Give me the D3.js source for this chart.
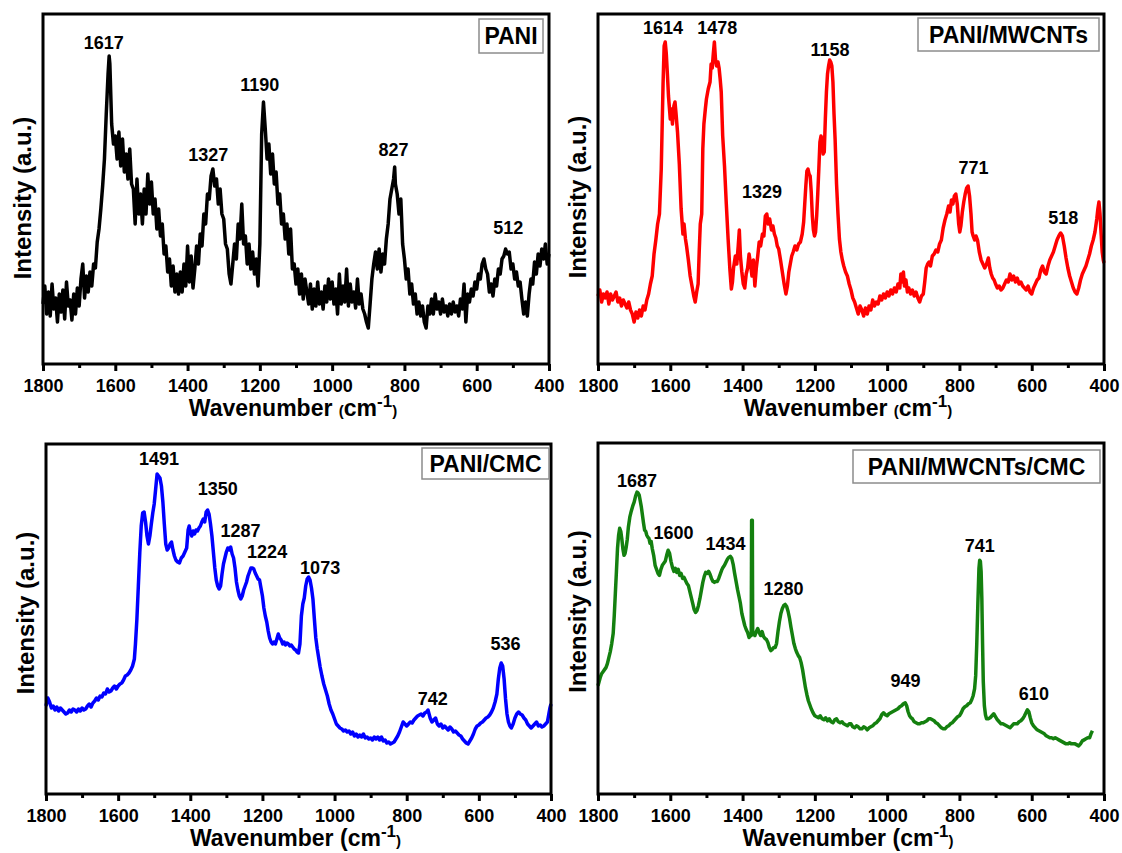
<!DOCTYPE html>
<html>
<head>
<meta charset="utf-8">
<script src="https://cdnjs.cloudflare.com/ajax/libs/d3/7.8.5/d3.min.js"></script>
<style>
  body { margin: 0; background: #fff; }
  svg { display: block; font-family: Arial, 'Liberation Sans', sans-serif; font-weight: bold; }
</style>
</head>
<body>
<svg id="chart" width="1122" height="853"></svg>
<script>
// Raman spectra, intensity in arbitrary units (0..350 = frame height)
const majorTicks = [1800, 1600, 1400, 1200, 1000, 800, 600, 400];
const minorTicks = [1700, 1500, 1300, 1100, 900, 700, 500];

const sampleNames = ['PANI', 'PANI/MWCNTs', 'PANI/CMC', 'PANI/MWCNTs/CMC'];

// [wavenumber, intensity]
const paniSpectrum = [
  [1800,60],[1795,78],[1790,50],[1785,72],[1780,48],[1775,80],[1770,55],[1765,66],[1760,42],[1755,70],
  [1750,52],[1745,74],[1740,45],[1735,82],[1730,58],[1725,64],[1720,44],[1715,70],[1710,50],[1705,76],
  [1700,58],[1695,85],[1690,100],[1685,66],[1680,88],[1675,72],[1670,92],[1665,78],[1660,100],[1655,96],
  [1650,122],[1645,135],[1640,155],[1635,178],[1630,205],[1625,250],[1620,290],[1617,308],[1615,300],[1610,240],
  [1605,220],[1600,228],[1595,205],[1590,232],[1585,198],[1580,225],[1575,192],[1570,210],[1565,185],[1560,215],
  [1555,180],[1550,175],[1545,140],[1540,185],[1535,150],[1530,170],[1525,140],[1520,175],[1515,150],[1510,190],
  [1505,160],[1500,182],[1495,150],[1490,165],[1485,135],[1480,155],[1475,128],[1470,140],[1465,110],[1460,118],
  [1455,92],[1450,105],[1445,78],[1440,98],[1435,72],[1430,90],[1425,70],[1420,92],[1415,72],[1410,100],
  [1405,78],[1400,118],[1395,82],[1390,108],[1385,76],[1380,95],[1375,118],[1370,100],[1365,130],[1360,118],
  [1355,150],[1350,140],[1345,170],[1340,165],[1335,188],[1330,195],[1325,178],[1320,185],[1315,160],[1310,175],
  [1305,150],[1300,145],[1295,120],[1290,115],[1285,90],[1280,80],[1275,100],[1270,120],[1265,105],[1260,140],
  [1255,125],[1250,160],[1245,120],[1240,128],[1235,100],[1230,120],[1225,95],[1220,112],[1215,90],[1210,105],
  [1205,78],[1200,120],[1195,230],[1190,262],[1185,235],[1180,205],[1175,220],[1170,190],[1165,210],[1160,180],
  [1155,192],[1150,160],[1145,170],[1140,140],[1135,150],[1130,125],[1125,140],[1120,110],[1115,135],[1110,95],
  [1105,100],[1100,80],[1095,95],[1090,70],[1085,90],[1080,65],[1075,85],[1070,72],[1065,60],[1060,80],
  [1055,55],[1050,75],[1045,58],[1040,82],[1035,60],[1030,72],[1025,55],[1020,78],[1015,62],[1010,85],
  [1005,65],[1000,82],[995,60],[990,75],[985,50],[980,90],[975,60],[970,78],[965,62],[960,95],
  [955,58],[950,80],[945,62],[940,72],[935,56],[930,85],[925,60],[920,70],[915,55],[910,50],
  [905,42],[900,36],[895,60],[890,85],[885,100],[880,112],[875,95],[870,115],[865,92],[860,110],
  [855,100],[850,125],[845,140],[840,165],[835,175],[830,185],[827,197],[825,180],[820,170],[815,150],
  [810,165],[805,120],[800,105],[795,85],[790,95],[785,70],[780,80],[775,60],[770,70],[765,50],
  [760,62],[755,48],[750,58],[745,42],[740,36],[735,58],[730,50],[725,65],[720,50],[715,70],
  [710,55],[705,62],[700,50],[695,65],[690,52],[685,58],[680,48],[675,60],[670,50],[665,62],
  [660,52],[655,58],[650,48],[645,65],[640,55],[635,80],[630,42],[625,70],[620,62],[615,75],
  [610,68],[605,82],[600,75],[595,90],[590,85],[585,100],[580,105],[575,95],[570,90],[565,72],
  [560,80],[555,68],[550,85],[545,78],[540,95],[535,90],[530,105],[525,108],[520,115],[515,110],
  [510,112],[505,95],[500,100],[495,85],[490,92],[485,78],[480,82],[475,65],[470,50],[465,62],
  [460,48],[455,70],[450,85],[445,80],[440,102],[435,90],[430,110],[425,98],[420,115],[415,105],
  [410,120],[405,100],[400,110]
];

const paniMwcntSpectrum = [
  [1800,68],[1795,74],[1790,62],[1785,70],[1780,66],[1775,72],[1770,60],[1765,70],[1760,64],[1755,68],
  [1750,72],[1745,62],[1740,66],[1735,58],[1730,64],[1725,60],[1720,56],[1715,62],[1710,54],[1705,50],
  [1700,42],[1695,52],[1690,46],[1685,54],[1680,48],[1675,58],[1670,54],[1665,64],[1660,70],[1655,80],
  [1650,88],[1645,110],[1640,124],[1635,140],[1630,150],[1625,195],[1620,280],[1617,318],[1614,322],[1611,310],
  [1608,290],[1605,268],[1600,245],[1597,255],[1594,240],[1590,258],[1587,262],[1584,250],[1580,232],[1575,200],
  [1570,155],[1565,130],[1562,140],[1558,125],[1555,118],[1550,104],[1545,88],[1540,78],[1535,68],[1531,62],
  [1527,72],[1523,80],[1520,112],[1517,140],[1513,150],[1510,215],[1507,240],[1503,255],[1500,265],[1495,275],
  [1490,282],[1487,300],[1484,296],[1481,310],[1478,322],[1475,305],[1472,298],[1468,302],[1465,296],[1462,285],
  [1459,272],[1455,228],[1450,198],[1445,160],[1440,125],[1435,94],[1431,75],[1428,82],[1425,96],[1420,108],
  [1416,100],[1412,118],[1409,134],[1406,108],[1402,92],[1398,80],[1394,76],[1390,90],[1386,96],[1382,110],
  [1378,100],[1374,88],[1370,104],[1366,78],[1362,96],[1358,108],[1354,122],[1350,118],[1345,130],[1341,128],
  [1337,148],[1333,150],[1329,140],[1325,145],[1320,134],[1316,138],[1312,130],[1308,126],[1304,118],[1300,115],
  [1295,104],[1290,92],[1285,80],[1280,70],[1276,78],[1272,92],[1268,100],[1264,108],[1260,112],[1255,118],
  [1250,114],[1245,120],[1240,122],[1235,130],[1231,142],[1228,160],[1225,178],[1222,193],[1219,195],[1216,190],
  [1213,188],[1210,172],[1207,148],[1204,134],[1201,128],[1198,132],[1195,148],[1192,170],[1189,195],[1186,222],
  [1183,228],[1180,224],[1177,210],[1174,212],[1171,245],[1168,272],[1165,290],[1162,298],[1159,304],[1156,302],
  [1153,298],[1150,282],[1147,250],[1144,225],[1140,180],[1136,150],[1132,125],[1128,112],[1124,104],[1120,98],
  [1115,92],[1110,88],[1105,80],[1100,74],[1095,66],[1090,62],[1085,56],[1080,50],[1075,58],[1070,54],
  [1065,48],[1060,56],[1055,50],[1050,58],[1045,54],[1040,64],[1035,58],[1030,62],[1025,60],[1020,68],
  [1015,64],[1010,70],[1005,66],[1000,72],[995,68],[990,74],[985,70],[980,76],[975,72],[970,80],
  [965,76],[962,90],[958,82],[955,92],[952,78],[948,84],[944,72],[940,76],[935,70],[930,74],
  [925,68],[920,72],[915,66],[910,62],[905,68],[900,70],[896,82],[892,96],[888,100],[884,102],
  [880,98],[875,108],[870,110],[865,114],[860,112],[855,120],[850,124],[845,136],[840,144],[835,150],
  [830,158],[826,152],[822,164],[818,160],[814,168],[810,170],[806,160],[802,140],[799,132],[796,138],
  [792,152],[788,162],[784,170],[780,176],[776,178],[772,168],[768,150],[765,132],[762,128],[758,124],
  [754,128],[750,124],[745,112],[740,104],[735,100],[730,96],[725,100],[720,106],[716,96],[712,90],
  [708,86],[704,84],[700,80],[695,76],[690,78],[685,74],[680,76],[675,80],[670,84],[665,82],
  [660,90],[655,84],[650,88],[645,82],[640,86],[635,80],[630,82],[625,78],[620,76],[615,74],
  [610,78],[605,72],[600,70],[595,76],[590,80],[585,84],[580,86],[575,94],[570,98],[565,92],
  [560,90],[555,98],[550,104],[545,108],[540,112],[535,118],[530,124],[525,128],[520,131],[515,128],
  [510,118],[505,106],[500,96],[495,88],[490,82],[485,76],[480,72],[475,70],[470,76],[465,84],
  [460,90],[455,94],[450,98],[445,104],[440,110],[435,118],[430,124],[425,132],[420,145],[417,155],
  [414,162],[411,150],[408,130],[405,112],[402,104],[400,101]
];

const paniCmcSpectrum = [
  [1800,88],[1795,96],[1790,92],[1785,86],[1780,88],[1775,84],[1770,87],[1765,83],[1760,86],[1755,84],
  [1750,82],[1745,80],[1740,81],[1735,84],[1730,82],[1725,85],[1720,84],[1715,82],[1710,85],[1705,83],
  [1700,86],[1695,84],[1690,85],[1685,88],[1680,90],[1675,87],[1670,91],[1665,93],[1660,96],[1655,94],
  [1650,98],[1645,97],[1640,101],[1635,100],[1630,105],[1625,102],[1620,103],[1615,106],[1610,108],[1605,105],
  [1600,108],[1595,110],[1590,111],[1585,114],[1580,118],[1575,119],[1570,121],[1565,124],[1560,128],[1555,135],
  [1552,150],[1548,175],[1544,208],[1540,241],[1536,268],[1532,281],[1528,282],[1524,272],[1520,258],[1516,250],
  [1512,258],[1508,270],[1504,281],[1500,290],[1496,305],[1492,320],[1488,318],[1484,316],[1480,308],[1476,292],
  [1472,270],[1468,250],[1464,244],[1460,246],[1456,250],[1452,252],[1448,244],[1444,238],[1440,234],[1435,232],
  [1430,231],[1425,236],[1420,238],[1415,242],[1410,246],[1406,264],[1403,268],[1400,262],[1396,258],[1392,263],
  [1388,260],[1384,264],[1380,263],[1376,266],[1372,268],[1368,272],[1364,275],[1360,272],[1356,282],[1352,284],
  [1348,280],[1344,270],[1340,258],[1336,242],[1332,226],[1328,214],[1324,208],[1320,205],[1316,208],[1312,220],
  [1308,230],[1304,236],[1300,242],[1296,246],[1292,244],[1288,247],[1284,240],[1280,236],[1276,226],[1272,212],
  [1268,204],[1264,198],[1260,195],[1256,198],[1252,204],[1248,208],[1244,212],[1240,218],[1236,222],[1232,226],
  [1228,226],[1224,225],[1220,221],[1216,218],[1212,215],[1208,214],[1204,206],[1200,198],[1196,186],[1192,178],
  [1188,172],[1184,163],[1180,156],[1176,152],[1172,150],[1168,152],[1164,150],[1160,155],[1156,160],[1152,156],
  [1148,154],[1144,150],[1140,152],[1136,149],[1132,151],[1128,150],[1124,148],[1120,149],[1116,147],[1112,145],
  [1108,144],[1104,142],[1100,141],[1096,150],[1092,178],[1088,190],[1084,196],[1080,208],[1076,215],[1072,217],
  [1068,214],[1064,206],[1060,195],[1056,175],[1052,156],[1048,145],[1044,136],[1040,127],[1035,118],[1030,110],
  [1025,104],[1020,98],[1015,90],[1010,84],[1005,80],[1000,75],[995,70],[990,68],[985,66],[980,65],
  [975,63],[970,64],[965,62],[960,63],[955,60],[950,62],[945,58],[940,60],[935,57],[930,59],
  [925,57],[920,60],[915,56],[910,57],[905,55],[900,56],[895,54],[890,57],[885,55],[880,57],
  [875,54],[870,57],[865,53],[860,54],[855,51],[850,52],[845,50],[840,51],[835,52],[830,55],
  [825,58],[820,62],[815,67],[810,72],[805,70],[800,68],[795,70],[790,72],[785,71],[780,74],
  [775,76],[770,78],[765,79],[760,80],[755,78],[750,81],[745,82],[741,84],[738,80],[735,76],
  [730,72],[725,74],[720,76],[715,70],[710,68],[705,70],[700,66],[695,68],[690,66],[685,64],
  [680,67],[675,65],[670,62],[665,63],[660,61],[655,59],[650,58],[645,55],[640,53],[635,51],
  [630,50],[625,53],[620,56],[615,60],[610,65],[605,68],[600,69],[595,71],[590,72],[585,74],
  [580,76],[575,77],[570,79],[565,82],[560,86],[555,92],[550,100],[546,115],[542,126],[538,131],
  [534,128],[530,115],[526,95],[522,80],[518,72],[514,68],[510,66],[505,70],[500,76],[495,80],
  [490,82],[485,80],[480,79],[475,76],[470,74],[465,70],[460,68],[455,66],[450,68],[445,70],
  [440,72],[435,68],[430,69],[425,67],[420,68],[415,70],[410,72],[406,80],[403,86],[400,90]
];

const paniMwcntCmcSpectrum = [
  [1800,108],[1797,112],[1794,116],[1790,120],[1786,122],[1782,124],[1778,126],[1774,130],[1770,136],[1766,142],
  [1762,150],[1758,160],[1755,178],[1752,200],[1749,222],[1746,245],[1743,258],[1740,265],[1737,262],[1734,254],
  [1731,244],[1728,238],[1725,240],[1722,246],[1719,254],[1716,266],[1712,276],[1708,282],[1704,287],[1700,291],
  [1696,297],[1692,301],[1689,300],[1686,298],[1683,292],[1680,286],[1677,278],[1674,270],[1671,263],[1668,262],
  [1665,258],[1662,256],[1659,255],[1656,250],[1653,252],[1650,245],[1646,238],[1642,228],[1638,224],[1634,220],
  [1630,218],[1626,224],[1622,228],[1618,230],[1614,232],[1610,238],[1606,243],[1602,240],[1598,232],[1594,226],
  [1590,222],[1586,225],[1582,221],[1578,224],[1574,218],[1570,220],[1566,215],[1562,216],[1558,213],[1554,210],
  [1550,208],[1546,202],[1542,196],[1538,190],[1534,184],[1530,181],[1526,183],[1522,188],[1518,195],[1514,203],
  [1510,211],[1506,217],[1502,221],[1498,220],[1494,222],[1490,219],[1486,215],[1482,212],[1478,211],[1474,212],
  [1470,212],[1466,215],[1462,219],[1458,223],[1454,226],[1450,228],[1446,231],[1442,234],[1438,236],[1434,237],
  [1430,235],[1426,229],[1422,220],[1418,212],[1414,204],[1410,197],[1406,190],[1402,180],[1398,174],[1394,168],
  [1390,164],[1386,161],[1382,156],[1378,159],[1376,158],[1375,273],[1373,273],[1372,160],[1369,161],[1366,158],
  [1362,162],[1358,165],[1354,161],[1350,158],[1346,162],[1342,157],[1338,155],[1334,154],[1330,151],[1326,146],
  [1322,143],[1318,144],[1314,146],[1310,146],[1306,150],[1302,162],[1298,172],[1294,180],[1290,185],[1286,188],
  [1282,189],[1278,187],[1274,182],[1270,175],[1266,166],[1262,158],[1258,150],[1254,145],[1250,141],[1246,138],
  [1242,136],[1238,131],[1234,124],[1230,115],[1226,106],[1222,99],[1218,93],[1214,89],[1210,85],[1205,81],
  [1200,78],[1195,77],[1190,76],[1185,78],[1180,75],[1175,74],[1170,76],[1165,73],[1160,75],[1155,72],
  [1150,71],[1145,74],[1140,75],[1135,72],[1130,71],[1125,72],[1120,70],[1115,69],[1110,68],[1105,70],
  [1100,70],[1095,67],[1090,66],[1085,68],[1080,67],[1075,65],[1070,65],[1065,67],[1060,66],[1055,64],
  [1050,66],[1045,67],[1040,68],[1035,70],[1030,71],[1025,73],[1020,75],[1015,79],[1010,81],[1005,79],
  [1000,78],[995,80],[990,81],[985,82],[980,83],[975,84],[970,85],[965,87],[960,88],[955,90],
  [950,91],[946,88],[942,82],[938,78],[934,76],[930,75],[925,72],[920,71],[915,70],[910,70],
  [905,71],[900,71],[895,72],[890,73],[885,75],[880,75],[875,74],[870,73],[865,71],[860,70],
  [855,68],[850,66],[845,65],[840,65],[835,67],[830,68],[825,70],[820,71],[815,73],[810,75],
  [805,77],[800,78],[795,81],[790,85],[785,87],[780,88],[775,90],[770,91],[766,94],[762,98],
  [758,105],[755,118],[752,150],[749,190],[746,225],[744,233],[742,232],[740,222],[738,195],[736,150],
  [734,112],[731,88],[728,79],[725,75],[720,75],[715,76],[710,78],[705,80],[700,77],[695,74],
  [690,72],[685,70],[680,70],[675,69],[670,68],[665,67],[660,66],[655,68],[650,70],[645,70],
  [640,70],[635,72],[630,73],[625,75],[620,78],[616,81],[612,84],[608,82],[604,76],[600,71],
  [595,68],[590,66],[585,64],[580,63],[575,62],[570,61],[565,60],[560,58],[555,57],[550,56],
  [545,56],[540,55],[535,56],[530,55],[525,54],[520,53],[515,52],[510,51],[505,50],[500,50],
  [495,51],[490,50],[485,50],[480,50],[475,49],[470,48],[465,50],[460,53],[455,54],[450,55],
  [445,56],[440,56],[436,60],[432,63]
];

// peak annotations: [text, wavenumber, intensity] (where the label sits)
const paniPeaks = [['1617',1632,321],['1327',1343,209],['1190',1200,279],['827',830,214],['512',513,136]];
const paniMwcntPeaks = [['1614',1620,336],['1478',1470,336],['1329',1346,172],['1158',1158,314],['771',761,196],['518',513,146]];
const paniCmcPeaks = [['1491',1487,335],['1350',1324,305],['1287',1261,263],['1224',1187,242],['1073',1040,226],['742',728,95],['536',526,150]];
const paniMwcntCmcPeaks = [['1687',1692,313],['1600',1591,261],['1434',1447,250],['1280',1287,205],['949',949,113],['741',744,248],['610',594,100]];

const panels = [
  {name: sampleNames[0], data: paniSpectrum, peaks: paniPeaks, color: '#000000',
    x: 43, y: 14, w: 506, h: 350, legend: [436, 5, 64, 34], ylabY: 9, bigParen: false},
  {name: sampleNames[1], data: paniMwcntSpectrum, peaks: paniMwcntPeaks, color: '#ff0000',
    x: 598, y: 14, w: 506, h: 350, legend: [320, 4, 181, 33], ylabY: 8, bigParen: false},
  {name: sampleNames[2], data: paniCmcSpectrum, peaks: paniCmcPeaks, color: '#0000ff',
    x: 46, y: 444, w: 505, h: 350, legend: [376, 4, 127, 31], ylabY: -6, bigParen: true},
  {name: sampleNames[3], data: paniMwcntCmcSpectrum, peaks: paniMwcntCmcPeaks, color: '#14800f',
    x: 598, y: 443, w: 506, h: 351, legend: [255, 7, 247, 33], ylabY: -7, bigParen: true}
];

const svg = d3.select('#chart');

function drawPanel(p) {
  const g = svg.append('g').attr('transform', `translate(${p.x},${p.y})`);

  const x = d3.scaleLinear().domain([1800, 400]).range([0, p.w]);
  const y = d3.scaleLinear().domain([0, 350]).range([p.h, 0]);

  // spectrum
  const line = d3.line()
    .x(d => x(d[0]))
    .y(d => y(d[1]));

  g.append('path')
    .datum(p.data)
    .attr('fill', 'none')
    .attr('stroke', p.color)
    .attr('stroke-width', 3.5)
    .attr('stroke-linejoin', 'round')
    .attr('d', line);

  // minor ticks (no labels)
  g.append('g')
    .attr('transform', `translate(0,${p.h})`)
    .call(d3.axisBottom(x).tickValues(minorTicks).tickSize(4).tickFormat(''))
    .call(a => a.select('.domain').remove())
    .call(a => a.selectAll('line').attr('stroke', '#000').attr('stroke-width', 3));

  // major ticks
  g.append('g')
    .attr('transform', `translate(0,${p.h})`)
    .call(d3.axisBottom(x).tickValues(majorTicks).tickSize(7).tickPadding(8).tickFormat(d3.format('d')))
    .call(a => a.select('.domain').remove())
    .call(a => a.selectAll('line').attr('stroke', '#000').attr('stroke-width', 3))
    .call(a => a.selectAll('text')
      .attr('fill', '#000')
      .style('font-size', '18px')
      .style('font-weight', 'bold')
      .style('font-family', "Arial, 'Liberation Sans', sans-serif"));

  // frame
  g.append('rect')
    .attr('width', p.w)
    .attr('height', p.h)
    .attr('fill', 'none')
    .attr('stroke', '#000')
    .attr('stroke-width', 3);

  // peak labels
  g.selectAll('.peak')
    .data(p.peaks)
    .enter().append('text')
    .attr('class', 'peak')
    .attr('x', d => x(d[1]))
    .attr('y', d => y(d[2]))
    .attr('dy', '0.36em')
    .attr('text-anchor', 'middle')
    .style('font-size', '18px')
    .text(d => d[0]);

  // legend box
  const [lx, ly, lw, lh] = p.legend;
  g.append('rect')
    .attr('x', lx).attr('y', ly)
    .attr('width', lw).attr('height', lh)
    .attr('fill', '#fff')
    .attr('stroke', '#8c8c8c')
    .attr('stroke-width', 1.5);
  g.append('text')
    .attr('x', lx + lw / 2)
    .attr('y', ly + lh / 2)
    .attr('dy', '0.36em')
    .attr('text-anchor', 'middle')
    .style('font-size', '23px')
    .text(p.name);

  // axis titles
  const xt = g.append('text')
    .attr('x', p.w / 2 - 3)
    .attr('y', p.h + 52)
    .attr('text-anchor', 'middle')
    .style('font-size', '23px');
  xt.append('tspan').text('Wavenumber ');
  xt.append('tspan').style('font-size', p.bigParen ? '23px' : '15px').text('(');
  xt.append('tspan').text('cm');
  xt.append('tspan').style('font-size', '17px').attr('dy', -9).text('-1');
  xt.append('tspan').style('font-size', '15px').attr('dy', 9).text(')');

  g.append('text')
    .attr('transform', `translate(-21,${p.h / 2 + p.ylabY}) rotate(-90)`)
    .attr('text-anchor', 'middle')
    .attr('dy', '0.36em')
    .style('font-size', '24px')
    .text('Intensity (a.u.)');
}

panels.forEach(drawPanel);
</script>
</body>
</html>
